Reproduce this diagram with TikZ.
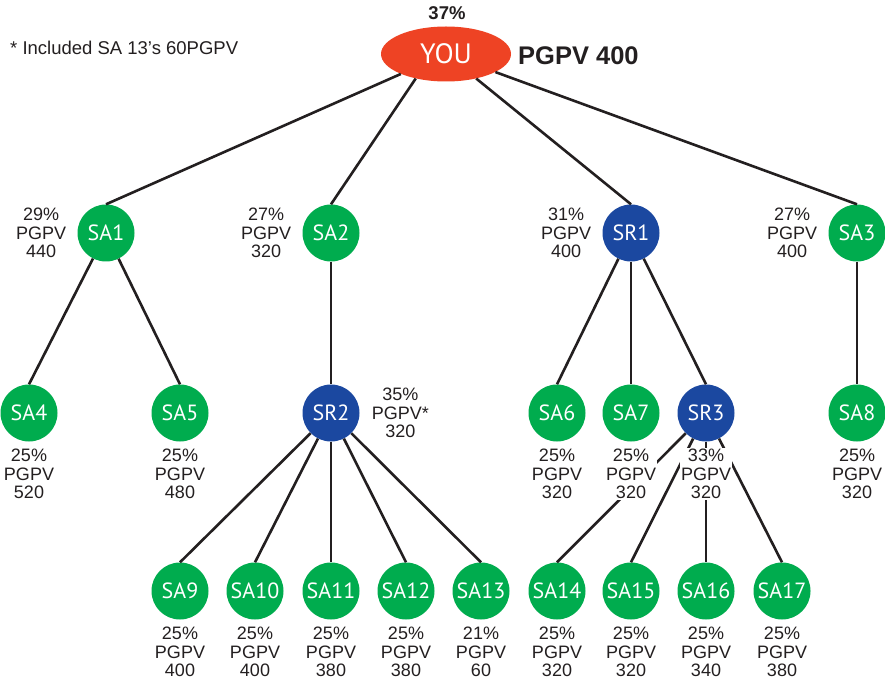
\documentclass[tikz,border=0pt]{standalone}
\usepackage{fontspec}
\setmainfont{Liberation Sans}
\newfontfamily\circfont{PT Sans}
\usetikzlibrary{positioning,shapes.geometric}
\definecolor{nodegreen}{HTML}{00AC4E}
\definecolor{nodeblue}{HTML}{1B48A0}
\definecolor{youred}{HTML}{EE4324}
\definecolor{ink}{HTML}{231F20}
\begin{document}
\begin{tikzpicture}[x=1pt,y=-1pt,
  member/.style={circle,minimum size=57pt,inner sep=0pt,fill=nodegreen,text=white,font=\circfont\fontsize{22}{24}\selectfont},
  leader/.style={member,fill=nodeblue},
  conn/.style={line width=2.6pt,draw=ink},
  info/.style={align=center,text=ink,fill=white,inner sep=1pt,font=\fontsize{18}{18.5}\selectfont},
  infobelow/.style={info,below=6.5pt of #1},
  infoleft/.style={info,left=10pt of #1},
  inforight/.style={info,right=11pt of #1}
]
\useasboundingbox[fill=white] (0,0) rectangle (885,684);

% top texts
\node[ellipse,minimum width=130pt,minimum height=55pt,inner sep=0pt,fill=youred,text=white,font=\circfont\fontsize{28}{30}\selectfont] (you) at (446,54) {YOU};
\node[text=ink,font=\bfseries\fontsize{18.5}{20}\selectfont] (pct) at (447,13) {37\%};
\node[anchor=west,text=ink,font=\bfseries\fontsize{25.5}{27}\selectfont,inner sep=0pt] (pgpv) at (518,56) {PGPV 400};
\node[anchor=west,text=ink,font=\fontsize{18.5}{20}\selectfont,inner sep=0pt] (note) at (10,48) {* Included SA 13’s 60PGPV};

% level 1
\node[member] (sa1) at (106,233) {SA1};
\node[member] (sa2) at (331,233) {SA2};
\node[leader] (sr1) at (631,233) {SR1};
\node[member] (sa3) at (857,233) {SA3};
% level 2
\node[member] (sa4) at (29,413) {SA4};
\node[member] (sa5) at (180,413) {SA5};
\node[leader] (sr2) at (331,413) {SR2};
\node[member] (sa6) at (557,413) {SA6};
\node[member] (sa7) at (631,413) {SA7};
\node[leader] (sr3) at (706,413) {SR3};
\node[member] (sa8) at (857,413) {SA8};
% level 3
\node[member] (sa9) at (180,591) {SA9};
\node[member] (sa10) at (255,591) {SA10};
\node[member] (sa11) at (331,591) {SA11};
\node[member] (sa12) at (406,591) {SA12};
\node[member] (sa13) at (481,591) {SA13};
\node[member] (sa14) at (557,591) {SA14};
\node[member] (sa15) at (631,591) {SA15};
\node[member] (sa16) at (706,591) {SA16};
\node[member] (sa17) at (782,591) {SA17};

% connectors
\draw[conn] (you) -- (sa1.north);
\draw[conn] (you.219) -- (sa2.north);
\draw[conn] (you) -- (sr1.north);
\draw[conn] (you) -- (sa3.north);
\draw[conn] (sa1) -- (sa4.north);
\draw[conn] (sa1) -- (sa5.north);
\draw[conn] (sa2) -- (sr2.north);
\draw[conn] (sr1) -- (sa6.north);
\draw[conn] (sr1) -- (sa7.north);
\draw[conn] (sr1) -- (sr3.north);
\draw[conn] (sa3) -- (sa8.north);
\foreach \c in {sa9,sa10,sa11,sa12,sa13} \draw[conn] (sr2) -- (\c.north);
\foreach \c in {sa14,sa15,sa16,sa17} \draw[conn] (sr3) -- (\c.north);

% info labels
\node[infoleft=sa1] (i1) {29\%\\PGPV\\440};
\node[infoleft=sa2] (i2) {27\%\\PGPV\\320};
\node[infoleft=sr1] (i3) {31\%\\PGPV\\400};
\node[infoleft=sa3] (i4) {27\%\\PGPV\\400};
\node[inforight=sr2] (i5) {35\%\\PGPV*\\320};
\node[infobelow=sa4] (i6) {25\%\\PGPV\\520};
\node[infobelow=sa5] (i7) {25\%\\PGPV\\480};
\node[infobelow=sa6] (i8) {25\%\\PGPV\\320};
\node[infobelow=sa7] (i9) {25\%\\PGPV\\320};
\node[infobelow=sr3] (i10) {33\%\\PGPV\\320};
\node[infobelow=sa8] (i11) {25\%\\PGPV\\320};
\node[infobelow=sa9] (i12) {25\%\\PGPV\\400};
\node[infobelow=sa10] (i13) {25\%\\PGPV\\400};
\node[infobelow=sa11] (i14) {25\%\\PGPV\\380};
\node[infobelow=sa12] (i15) {25\%\\PGPV\\380};
\node[infobelow=sa13] (i16) {21\%\\PGPV\\60};
\node[infobelow=sa14] (i17) {25\%\\PGPV\\320};
\node[infobelow=sa15] (i18) {25\%\\PGPV\\320};
\node[infobelow=sa16] (i19) {25\%\\PGPV\\340};
\node[infobelow=sa17] (i20) {25\%\\PGPV\\380};
\end{tikzpicture}
\end{document}
